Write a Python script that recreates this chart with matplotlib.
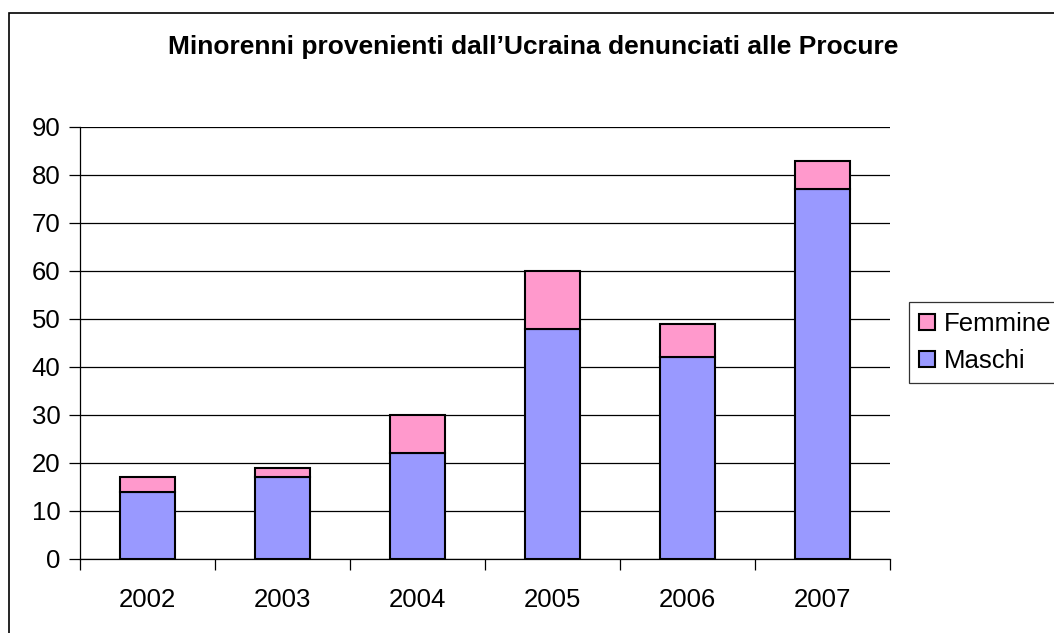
import matplotlib
matplotlib.use("Agg")
import matplotlib.pyplot as plt
from matplotlib.patches import Rectangle
import numpy as np

years = ["2002", "2003", "2004", "2005", "2006", "2007"]
maschi = [14, 17, 22, 48, 42, 77]
femmine = [3, 2, 8, 12, 7, 6]
yticks = [0, 10, 20, 30, 40, 50, 60, 70, 80, 90]

plt.rcParams['font.family'] = ['Liberation Sans', 'DejaVu Sans']

fig = plt.figure(figsize=(10.54, 6.33), dpi=100)
fig.patches.append(Rectangle((9/1054, -0.1), 1.2, (633-13)/633 + 0.1, transform=fig.transFigure,
                             fill=False, edgecolor='black', linewidth=1.2))

ax = fig.add_axes([80/1054, 1-559/633, (890-80)/1054, (559-127)/633])
x = np.arange(len(years))
w = 0.41
ax.bar(x, maschi, w, color='#9999FF', edgecolor='black', linewidth=1.5, label='Maschi', zorder=3)
ax.bar(x, femmine, w, bottom=maschi, color='#FF99CC', edgecolor='black', linewidth=1.5, label='Femmine', zorder=3)

ax.set_xlim(-0.5, len(years)-0.5)
ax.set_ylim(0, 90)
ax.set_yticks(yticks)
ax.set_yticklabels([str(v) for v in yticks], fontsize=18.5)
ax.yaxis.grid(True, color='black', linewidth=0.9, zorder=0)
ax.set_axisbelow(True)
ax.set_xticks(x)
ax.set_xticklabels(years, fontsize=18.5)
ax.set_xticks(np.arange(-0.5, len(years)), minor=True)
ax.tick_params(axis='x', which='major', length=0, pad=21)
ax.tick_params(axis='x', which='minor', length=8, width=0.9, direction='out')
ax.tick_params(axis='y', length=8, width=0.9, direction='out', pad=6)
for s in ['top', 'right']:
    ax.spines[s].set_visible(False)
ax.spines['left'].set_linewidth(0.9)
ax.spines['bottom'].set_linewidth(0.9)

handles, labels = ax.get_legend_handles_labels()
leg = fig.legend(handles[::-1], labels[::-1], loc='upper left',
                 bbox_to_anchor=(909/1054, 1-302/633), fontsize=18.5,
                 frameon=True, fancybox=False, edgecolor='black',
                 handlelength=0.6, handleheight=0.6, handletextpad=0.35,
                 borderpad=0.4, labelspacing=0.5, borderaxespad=0)
leg.get_frame().set_linewidth(0.9)

fig.text(533/1054, 1-47/633, "Minorenni provenienti dall\u2019Ucraina denunciati alle Procure",
         ha='center', va='center', fontsize=19, fontweight='bold')

fig.savefig("out.png", dpi=100)
